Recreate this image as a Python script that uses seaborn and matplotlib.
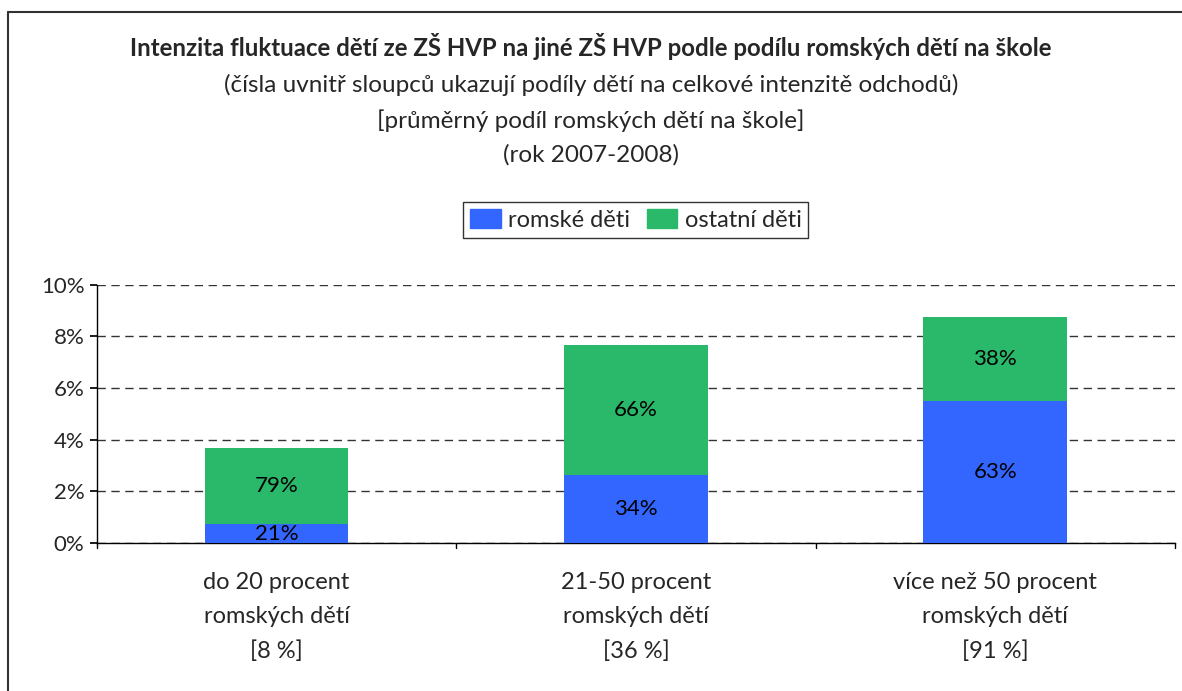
import pandas as pd
import numpy as np
import seaborn as sns
from matplotlib import pyplot as plt
from matplotlib.patches import Patch
from matplotlib.lines import Line2D

# data (percentage points of departures)
categories = ['do 20 procent\nromských dětí\n[8 %]',
              '21-50 procent\nromských dětí\n[36 %]',
              'více než 50 procent\nromských dětí\n[91 %]']
romske = [0.74, 2.62, 5.50]
ostatni = [2.94, 5.05, 3.26]
romske_share = ['21%', '34%', '63%']
ostatni_share = ['79%', '66%', '38%']

blue = '#3366FF'
green = '#2AB86A'

sns.set_theme(style='white')
plt.rcParams['font.family'] = ['Lato', 'DejaVu Sans']

df = pd.DataFrame({'kategorie': categories, 'romske': romske, 'ostatni': ostatni})
df['celkem'] = df['romske'] + df['ostatni']

fig = plt.figure(figsize=(11.82, 6.91), dpi=100)
ax = fig.add_axes([0.082, 0.214, 0.912, 0.374])

# stacked bars: total in green, blue drawn over it
sns.barplot(data=df, x='kategorie', y='celkem', color=green, width=0.4,
            saturation=1, linewidth=0, ax=ax, zorder=3)
sns.barplot(data=df, x='kategorie', y='romske', color=blue, width=0.4,
            saturation=1, linewidth=0, ax=ax, zorder=3)

for i, row in df.iterrows():
    ax.text(i, row['romske'] / 2, romske_share[i], ha='center', va='center',
            fontsize=16, color='black', zorder=4)
    ax.text(i, row['romske'] + row['ostatni'] / 2, ostatni_share[i], ha='center',
            va='center', fontsize=16, color='black', zorder=4)

ax.set_ylim(0, 10)
ax.set_xlim(-0.5, 2.5)
ax.set_yticks(np.arange(0, 11, 2))
ax.set_yticklabels([f'{v}%' for v in range(0, 11, 2)])
ax.yaxis.grid(True, linestyle=(0, (6, 4)), color='#333333', linewidth=1)
ax.set_axisbelow(True)
ax.set_xlabel('')
ax.set_ylabel('')

for s in ['top', 'right']:
    ax.spines[s].set_visible(False)
for s in ['left', 'bottom']:
    ax.spines[s].set_color('black')
    ax.spines[s].set_linewidth(1)

ax.tick_params(axis='y', labelsize=16, length=5, left=True, color='black', pad=4)
ax.tick_params(axis='x', labelsize=17, length=0, pad=21)
ax.set_xticks(range(3))
ax.set_xticklabels(categories, linespacing=1.75)
# category boundary ticks
for xb in [-0.5, 0.5, 1.5, 2.5]:
    ax.plot([xb, xb], [0, -0.2], color='black', lw=1, clip_on=False)

fig.text(0.5, 0.932, 'Intenzita fluktuace dětí ze ZŠ HVP na jiné ZŠ HVP podle podílu romských dětí na škole',
         ha='center', va='center', fontsize=17.3, fontweight='bold')
fig.text(0.5, 0.877, '(čísla uvnitř sloupců ukazují podíly dětí na celkové intenzitě odchodů)',
         ha='center', va='center', fontsize=17.5)
fig.text(0.5, 0.825, '[průměrný podíl romských dětí na škole]',
         ha='center', va='center', fontsize=17.5)
fig.text(0.5, 0.776, '(rok 2007-2008)',
         ha='center', va='center', fontsize=17.5)

handles = [Patch(color=blue, label='romské děti'), Patch(color=green, label='ostatní děti')]
leg = fig.legend(handles=handles, loc='center', bbox_to_anchor=(0.538, 0.682), ncol=2,
                 fontsize=17, frameon=True, fancybox=False, edgecolor='black',
                 handlelength=1.3, handleheight=0.9, handletextpad=0.3,
                 columnspacing=0.7, borderpad=0.3)
leg.get_frame().set_linewidth(1)

# outer chart border (top and left visible)
fig.add_artist(Line2D([8 / 1182, 1], [1 - 12 / 691, 1 - 12 / 691],
                      transform=fig.transFigure, color='#333333', lw=1.5))
fig.add_artist(Line2D([8 / 1182, 8 / 1182], [0, 1 - 12 / 691],
                      transform=fig.transFigure, color='#333333', lw=1.5))

fig.savefig('out.png', dpi=100)
